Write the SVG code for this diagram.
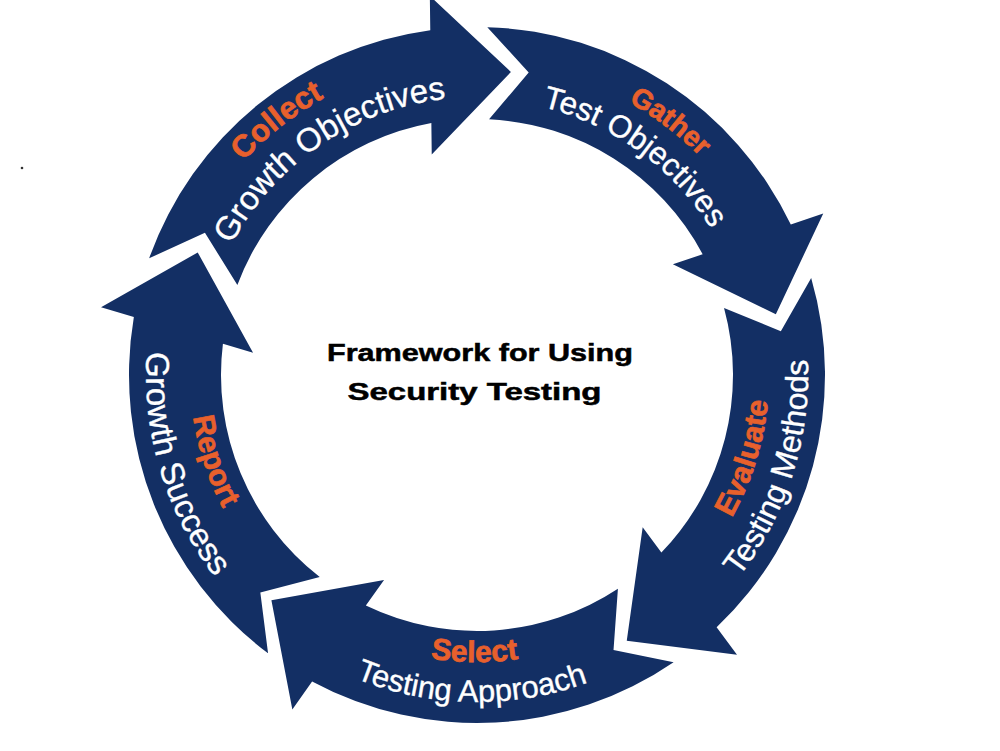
<svg xmlns="http://www.w3.org/2000/svg" width="1000" height="751" viewBox="0 0 1000 751">
<style>
 .arrow{fill:#132f64}
 .lbl{font-family:"Liberation Sans",Arial,sans-serif;font-weight:bold;fill:#e8602c;stroke:#e8602c;stroke-width:0.7px}
 .sub{font-family:"Liberation Sans",Arial,sans-serif;fill:#ffffff;stroke:#ffffff;stroke-width:0.35px}
 .title{font-family:"Liberation Sans",Arial,sans-serif;font-weight:bold;font-size:24px;fill:#000000;stroke:#000000;stroke-width:0.5px}
</style>
<defs>
 <path id="arrowShape" d="M348,0 A348,348 0 0 1 159.7,309.2 L171.6,341.3 L69.7,296.9 L116.6,192.5 L127.5,222.0 A256,256 0 0 0 255.96,4.47 L304.0,42.7 Z"/>
 <path id="pCollect" d="M162.7,337.5 A316.5,316.5 0 0 1 514.5,60.7"/>
 <path id="pGrowthObj" d="M203.9,322.9 A278,278 0 0 1 529.1,101.9"/>
 <path id="pGather" d="M435.2,65.8 A312,312 0 0 1 786.2,333.2"/>
 <path id="pTestObj" d="M432.9,102.6 A276,276 0 0 1 749.4,330.9"/>
 <path id="pEvaluate" d="M613.2,633.3 A292,292 0 0 0 735.3,238.8"/>
 <path id="pMethods" d="M629.9,668.6 A331,331 0 0 0 770.6,222.1"/>
 <path id="pSelect" d="M272.3,576.2 A287,287 0 0 0 678.2,579.7"/>
 <path id="pApproach" d="M241.8,602.2 A327,327 0 0 0 704.2,610.2"/>
 <path id="pReport" d="M221.1,245.1 A287,287 0 0 0 347.1,630.9"/>
 <path id="pSuccess" d="M185.3,218.6 A331,331 0 0 0 320.6,666.7"/>
</defs>
<rect width="1000" height="751" fill="#ffffff"/>
<circle cx="22" cy="168" r="1.3" fill="#333333"/>

<g id="collect">
 <use href="#arrowShape" class="arrow" transform="translate(477,375) rotate(199.6)"/>
 <text class="lbl" font-size="31"><textPath href="#pCollect" startOffset="50%" text-anchor="middle">Collect</textPath></text>
 <text class="sub" font-size="33"><textPath href="#pGrowthObj" startOffset="50%" text-anchor="middle">Growth Objectives</textPath></text>
</g>

<g id="gather">
 <use href="#arrowShape" class="arrow" transform="translate(477,375) rotate(271.7)"/>
 <text class="lbl" font-size="28"><textPath href="#pGather" startOffset="50%" text-anchor="middle">Gather</textPath></text>
 <text class="sub" font-size="31.5"><textPath href="#pTestObj" startOffset="50%" text-anchor="middle">Test Objectives</textPath></text>
</g>

<g id="evaluate">
 <use href="#arrowShape" class="arrow" transform="translate(477,375) rotate(343.8)"/>
 <text class="lbl" font-size="30"><textPath href="#pEvaluate" startOffset="50%" text-anchor="middle">Evaluate</textPath></text>
 <text class="sub" font-size="32"><textPath href="#pMethods" startOffset="50%" text-anchor="middle">Testing Methods</textPath></text>
</g>

<g id="select">
 <use href="#arrowShape" class="arrow" transform="translate(477,375) rotate(55.6)"/>
 <text class="lbl" font-size="30"><textPath href="#pSelect" startOffset="50%" text-anchor="middle">Select</textPath></text>
 <text class="sub" font-size="31"><textPath href="#pApproach" startOffset="50%" text-anchor="middle">Testing Approach</textPath></text>
</g>

<g id="report">
 <use href="#arrowShape" class="arrow" transform="translate(477,375) rotate(126.9)"/>
 <text class="lbl" font-size="30"><textPath href="#pReport" startOffset="50%" text-anchor="middle">Report</textPath></text>
 <text class="sub" font-size="33"><textPath href="#pSuccess" startOffset="50%" text-anchor="middle">Growth Success</textPath></text>
</g>

<g id="title">
 <text class="title" x="480" y="361" text-anchor="middle" textLength="306" lengthAdjust="spacingAndGlyphs">Framework for Using</text>
 <text class="title" x="474.5" y="400" text-anchor="middle" textLength="254" lengthAdjust="spacingAndGlyphs">Security Testing</text>
</g>
</svg>
